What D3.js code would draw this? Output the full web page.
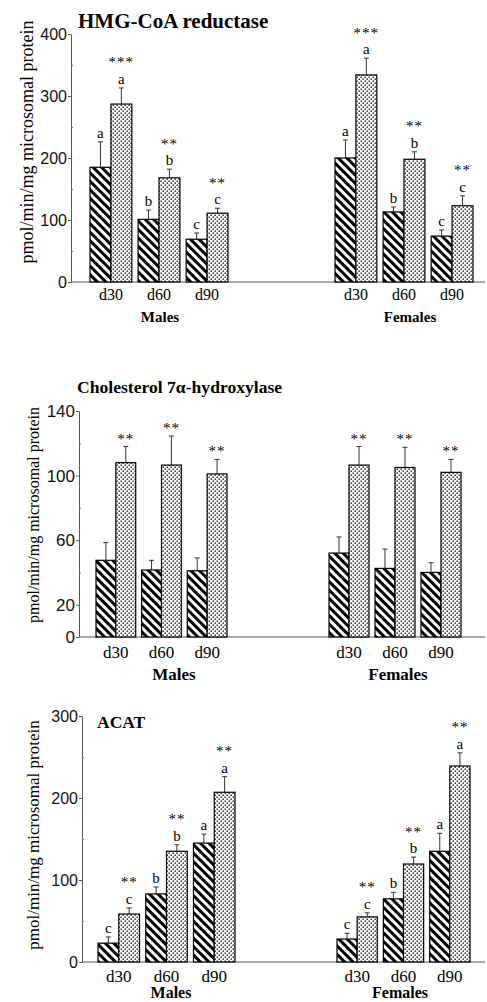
<!DOCTYPE html>
<html>
<head>
<meta charset="utf-8">
<script src="https://cdn.jsdelivr.net/npm/d3@7"></script>
<style>
  body { margin: 0; background: #fff; }
  svg { display: block; }
</style>
</head>
<body>
<div id="chart"></div>
<script>
// groups: males d30, d60, d90, then females d30, d60, d90
const days = ["d30", "d60", "d90"];
const sexes = ["Males", "Females"];
const series = ["hatched", "dotted"];

// HMG-CoA reductase
const hmgHatched = [185, 101, 69, 200, 113, 74];
const hmgHatchedSE = [41, 15, 10, 29, 8, 10];
const hmgDotted = [287, 168, 111, 334, 198, 123];
const hmgDottedSE = [26, 14, 8, 27, 12, 16];
const hmgHatchedLetters = ["a", "b", "c", "a", "b", "c"];
const hmgDottedLetters = ["a", "b", "c", "a", "b", "c"];
const hmgStars = ["***", "**", "**", "***", "**", "**"];
const hmgTicks = [0, 100, 200, 300, 400];
const hmgMinorTicks = [50, 150, 250, 350];

// Cholesterol 7a-hydroxylase
const cholHatched = [47.5, 41.5, 41, 52, 42.5, 40];
const cholHatchedSE = [11, 6, 8, 10, 12, 6];
const cholDotted = [108, 106.5, 101, 106.5, 105, 102];
const cholDottedSE = [10, 18, 9, 11.5, 12.5, 8];
const cholHatchedLetters = ["", "", "", "", "", ""];
const cholDottedLetters = ["", "", "", "", "", ""];
const cholStars = ["**", "**", "**", "**", "**", "**"];
const cholTicks = [0, 20, 60, 100, 140];
const cholMinorTicks = [40, 80, 120];

// ACAT
const acatHatched = [23, 83, 145, 28, 77, 135];
const acatHatchedSE = [7.5, 8.5, 11, 7, 8, 22];
const acatDotted = [58.5, 135, 207, 55, 119.5, 239];
const acatDottedSE = [7.5, 8, 19, 5, 8.5, 16];
const acatHatchedLetters = ["c", "b", "a", "c", "b", "a"];
const acatDottedLetters = ["c", "b", "a", "c", "b", "a"];
const acatStars = ["**", "**", "**", "**", "**", "**"];
const acatTicks = [0, 100, 200, 300];
const acatMinorTicks = [50, 150, 250];

const yLabel = "pmol/min/mg microsomal protein";

const width = 487, height = 1002;
const svg = d3.select("#chart").append("svg")
    .attr("width", width)
    .attr("height", height);

const defs = svg.append("defs");
// diagonal stripes
const hatch = defs.append("pattern")
    .attr("id", "hatch")
    .attr("patternUnits", "userSpaceOnUse")
    .attr("width", 6).attr("height", 6)
    .attr("patternTransform", "rotate(-45)");
hatch.append("rect").attr("width", 6).attr("height", 6).attr("fill", "#fff");
hatch.append("rect").attr("width", 3).attr("height", 6).attr("fill", "#000");
// dots
const dots = defs.append("pattern")
    .attr("id", "dots")
    .attr("patternUnits", "userSpaceOnUse")
    .attr("width", 4).attr("height", 4);
dots.append("rect").attr("width", 4).attr("height", 4).attr("fill", "#fff");
dots.append("rect").attr("x", 0.5).attr("y", 0.5).attr("width", 1.4).attr("height", 1.4).attr("fill", "#111");
dots.append("rect").attr("x", 2.5).attr("y", 2.5).attr("width", 1.4).attr("height", 1.4).attr("fill", "#111");

const panels = [
    {
        title: "HMG-CoA reductase", max: 400,
        hatched: hmgHatched, hatchedSE: hmgHatchedSE, dotted: hmgDotted, dottedSE: hmgDottedSE,
        hLetters: hmgHatchedLetters, dLetters: hmgDottedLetters, stars: hmgStars,
        ticks: hmgTicks, minor: hmgMinorTicks,
        layout: { y: [282, 34], axisX: 71, groups: [[90, 228], [335, 473]],
                  title: [78, 28, 21], label: [33, 142, 18], tickFont: 16,
                  dayY: 300, dayFont: 16, sexY: 322, sexFont: 15, sexX: [160, 410] }
    },
    {
        title: "Cholesterol 7\u03b1-hydroxylase", max: 140,
        hatched: cholHatched, hatchedSE: cholHatchedSE, dotted: cholDotted, dottedSE: cholDottedSE,
        hLetters: cholHatchedLetters, dLetters: cholDottedLetters, stars: cholStars,
        ticks: cholTicks, minor: cholMinorTicks,
        layout: { y: [637, 411], axisX: 79, groups: [[96, 227], [329, 461]],
                  title: [77, 393, 17.6], label: [38.5, 515, 16], tickFont: 17,
                  dayY: 658, dayFont: 17, sexY: 680, sexFont: 17, sexX: [174, 398] }
    },
    {
        title: "ACAT", max: 300,
        hatched: acatHatched, hatchedSE: acatHatchedSE, dotted: acatDotted, dottedSE: acatDottedSE,
        hLetters: acatHatchedLetters, dLetters: acatDottedLetters, stars: acatStars,
        ticks: acatTicks, minor: acatMinorTicks,
        layout: { y: [962, 716], axisX: 82, groups: [[98, 235], [337, 470]],
                  title: [97, 728, 17.5], label: [38.5, 835, 17], tickFont: 16,
                  dayY: 982, dayFont: 17, sexY: 998, sexFont: 16, sexX: [171, 400] }
    }
];

function drawPanel(p) {
    const L = p.layout;
    const g = svg.append("g");
    const y = d3.scaleLinear().domain([0, p.max]).range(L.y);

    // x axis line
    g.append("line")
        .attr("x1", L.axisX).attr("x2", 485)
        .attr("y1", y(0)).attr("y2", y(0))
        .attr("stroke", "#555").attr("stroke-width", 1);

    // y axis
    g.append("g")
        .attr("transform", `translate(${L.axisX},0)`)
        .call(d3.axisLeft(y).tickValues(p.ticks).tickSize(3).tickPadding(1).tickSizeOuter(0))
        .call(a => a.select(".domain").attr("stroke", "#555"))
        .call(a => a.selectAll(".tick line").attr("stroke", "#555"))
        .call(a => a.selectAll("text")
            .attr("font-family", "Liberation Sans, Arial, sans-serif")
            .attr("font-size", L.tickFont)
            .attr("fill", "#111"));
    g.append("g")
        .attr("transform", `translate(${L.axisX},0)`)
        .call(d3.axisRight(y).tickValues(p.minor).tickSize(2).tickFormat(""))
        .call(a => a.select(".domain").remove())
        .call(a => a.selectAll(".tick line").attr("stroke", "#777"));

    // title
    g.append("text")
        .attr("x", L.title[0]).attr("y", L.title[1])
        .attr("font-family", "Liberation Serif, Times New Roman, serif")
        .attr("font-weight", "bold")
        .attr("font-size", L.title[2])
        .text(p.title);

    // y label
    g.append("text")
        .attr("transform", `translate(${L.label[0]},${L.label[1]}) rotate(-90)`)
        .attr("text-anchor", "middle")
        .attr("font-family", "Liberation Serif, Times New Roman, serif")
        .attr("font-size", L.label[2])
        .text(yLabel);

    sexes.forEach((sex, si) => {
        const x = d3.scaleBand().domain(days).range(L.groups[si]).paddingInner(0.13).paddingOuter(0);
        const xs = d3.scaleBand().domain(series).range([0, x.bandwidth()]);

        days.forEach((day, di) => {
            const i = si * 3 + di;
            const recs = [
                { s: "hatched", v: p.hatched[i], se: p.hatchedSE[i], letter: p.hLetters[i], stars: "" },
                { s: "dotted", v: p.dotted[i], se: p.dottedSE[i], letter: p.dLetters[i], stars: p.stars[i] }
            ];
            recs.forEach(r => {
                const bx = x(day) + xs(r.s);
                const cx = bx + xs.bandwidth() / 2;
                const top = y(r.v + r.se);
                // error bar
                g.append("line")
                    .attr("x1", cx).attr("x2", cx)
                    .attr("y1", y(r.v)).attr("y2", top)
                    .attr("stroke", "#333").attr("stroke-width", 1);
                g.append("line")
                    .attr("x1", cx - 2.5).attr("x2", cx + 2.5)
                    .attr("y1", top).attr("y2", top)
                    .attr("stroke", "#333").attr("stroke-width", 1);
                // bar
                g.append("rect")
                    .attr("x", bx).attr("y", y(r.v))
                    .attr("width", xs.bandwidth())
                    .attr("height", y(0) - y(r.v))
                    .attr("fill", r.s === "hatched" ? "url(#hatch)" : "url(#dots)")
                    .attr("stroke", "#000").attr("stroke-width", 1.2);
                // annotations
                let base = top - 4;
                if (r.letter) {
                    g.append("text")
                        .attr("x", cx).attr("y", base)
                        .attr("text-anchor", "middle")
                        .attr("font-family", "Liberation Serif, Times New Roman, serif")
                        .attr("font-size", 15)
                        .text(r.letter);
                    base -= 16.5;
                } else {
                    base = top - 3;
                }
                if (r.stars) {
                    g.append("text")
                        .attr("x", cx).attr("y", base)
                        .attr("text-anchor", "middle")
                        .attr("font-family", "Liberation Serif, Times New Roman, serif")
                        .attr("font-size", 15)
                        .attr("letter-spacing", 1)
                        .text(r.stars);
                }
            });
            // day label
            g.append("text")
                .attr("x", x(day) + x.bandwidth() / 2).attr("y", L.dayY)
                .attr("text-anchor", "middle")
                .attr("font-family", "Liberation Serif, Times New Roman, serif")
                .attr("font-size", L.dayFont)
                .text(day);
        });

        g.append("text")
            .attr("x", L.sexX[si]).attr("y", L.sexY)
            .attr("text-anchor", "middle")
            .attr("font-family", "Liberation Serif, Times New Roman, serif")
            .attr("font-weight", "bold")
            .attr("font-size", L.sexFont)
            .text(sex);
    });
}

panels.forEach(drawPanel);
</script>
</body>
</html>
